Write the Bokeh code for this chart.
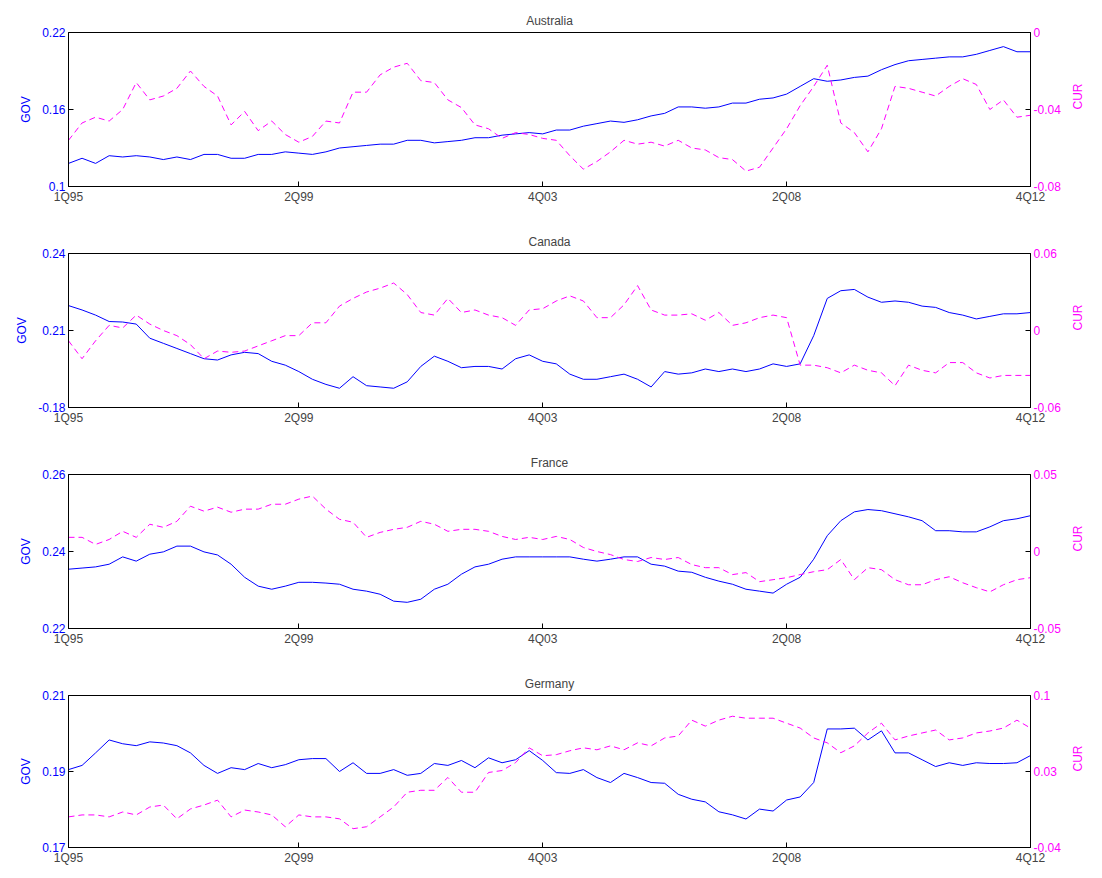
import math
from bokeh.plotting import figure
from bokeh.models import Range1d, LinearAxis, FixedTicker, Column
from bokeh.embed import file_html
from bokeh.resources import INLINE

# quarters 1Q95 .. 4Q12
quarters = list(range(72))
x_ticks = [0, 17, 35, 53, 71]
x_labels = ["1Q95", "2Q99", "4Q03", "2Q08", "4Q12"]

aus_gov = [0.118, 0.122, 0.118, 0.124, 0.123, 0.124, 0.123, 0.121, 0.123, 0.121, 0.125, 0.125,
           0.122, 0.122, 0.125, 0.125, 0.127, 0.126, 0.125, 0.127, 0.130, 0.131, 0.132, 0.133,
           0.133, 0.136, 0.136, 0.134, 0.135, 0.136, 0.138, 0.138, 0.140, 0.141, 0.142, 0.141,
           0.144, 0.144, 0.147, 0.149, 0.151, 0.150, 0.152, 0.155, 0.157, 0.162, 0.162, 0.161,
           0.162, 0.165, 0.165, 0.168, 0.169, 0.172, 0.178, 0.184, 0.182, 0.183, 0.185, 0.186,
           0.191, 0.195, 0.198, 0.199, 0.200, 0.201, 0.201, 0.203, 0.206, 0.209, 0.205, 0.205]
aus_cur = [-0.056, -0.047, -0.044, -0.046, -0.040, -0.026, -0.035, -0.033, -0.029, -0.020, -0.028, -0.033,
           -0.048, -0.041, -0.051, -0.046, -0.053, -0.057, -0.054, -0.046, -0.047, -0.031, -0.031, -0.022,
           -0.018, -0.016, -0.025, -0.026, -0.035, -0.039, -0.048, -0.050, -0.055, -0.052, -0.053, -0.055,
           -0.056, -0.064, -0.071, -0.067, -0.062, -0.056, -0.058, -0.057, -0.059, -0.056, -0.060, -0.061,
           -0.065, -0.066, -0.072, -0.070, -0.060, -0.050, -0.038, -0.028, -0.017, -0.047, -0.052, -0.062,
           -0.050, -0.028, -0.029, -0.031, -0.033, -0.028, -0.024, -0.027, -0.040, -0.035, -0.044, -0.043]

can_gov = [0.2197, 0.218, 0.216, 0.2135, 0.2133, 0.2125, 0.207, 0.205, 0.203, 0.201, 0.199, 0.1985,
           0.2005, 0.2015, 0.201, 0.198, 0.1965, 0.194, 0.191, 0.189, 0.1875, 0.192, 0.1885, 0.188,
           0.1875, 0.190, 0.196, 0.200, 0.198, 0.1955, 0.196, 0.196, 0.195, 0.199, 0.2005, 0.198,
           0.197, 0.193, 0.191, 0.191, 0.192, 0.193, 0.191, 0.188, 0.194, 0.193, 0.1935, 0.195,
           0.194, 0.195, 0.194, 0.195, 0.197, 0.196, 0.197, 0.208, 0.2225, 0.2255, 0.226, 0.223,
           0.221, 0.2215, 0.221, 0.2195, 0.219, 0.217, 0.216, 0.2145, 0.2155, 0.2165, 0.2165, 0.217]
can_cur = [-0.008, -0.022, -0.008, 0.004, 0.002, 0.012, 0.005, 0.000, -0.004, -0.011, -0.022, -0.016,
           -0.017, -0.016, -0.012, -0.008, -0.004, -0.004, 0.006, 0.006, 0.019, 0.025, 0.030, 0.033,
           0.037, 0.028, 0.014, 0.012, 0.025, 0.014, 0.016, 0.012, 0.010, 0.004, 0.016, 0.017,
           0.023, 0.027, 0.023, 0.010, 0.010, 0.020, 0.035, 0.016, 0.012, 0.012, 0.013, 0.008,
           0.014, 0.004, 0.006, 0.010, 0.012, 0.010, -0.027, -0.027, -0.029, -0.033, -0.027, -0.031,
           -0.033, -0.043, -0.027, -0.031, -0.033, -0.025, -0.025, -0.033, -0.037, -0.035, -0.035, -0.035]

fra_gov = [0.2354, 0.2357, 0.2360, 0.2367, 0.2386, 0.2375, 0.2393, 0.2399, 0.2414, 0.2414, 0.2399, 0.2391,
           0.2367, 0.2333, 0.2310, 0.2302, 0.2310, 0.2320, 0.2320, 0.2318, 0.2315, 0.2302, 0.2297, 0.2289,
           0.2271, 0.2268, 0.2276, 0.2302, 0.2315, 0.2341, 0.2360, 0.2367, 0.2380, 0.2386, 0.2386, 0.2386,
           0.2386, 0.2386, 0.2380, 0.2375, 0.2380, 0.2386, 0.2386, 0.2367, 0.2362, 0.2349, 0.2346, 0.2333,
           0.2323, 0.2315, 0.2302, 0.2297, 0.2292, 0.2315, 0.2333, 0.2380, 0.2441, 0.2480, 0.2503, 0.2509,
           0.2506, 0.2498, 0.2490, 0.2480, 0.2454, 0.2454, 0.2451, 0.2451, 0.2464, 0.2480, 0.2485, 0.2493]
fra_cur = [0.0092, 0.0092, 0.0046, 0.0078, 0.0131, 0.0092, 0.0177, 0.0157, 0.0196, 0.0294, 0.0262, 0.0288,
           0.0255, 0.0275, 0.0275, 0.0307, 0.0307, 0.0340, 0.0360, 0.0275, 0.0209, 0.0190, 0.0092, 0.0124,
           0.0144, 0.0157, 0.0196, 0.0177, 0.0131, 0.0144, 0.0144, 0.0131, 0.0098, 0.0078, 0.0092, 0.0078,
           0.0098, 0.0078, 0.0026, 0.0000, -0.0020, -0.0052, -0.0065, -0.0039, -0.0052, -0.0039, -0.0085, -0.0105,
           -0.0105, -0.0150, -0.0137, -0.0196, -0.0183, -0.0170, -0.0150, -0.0131, -0.0118, -0.0052, -0.0183, -0.0105,
           -0.0118, -0.0183, -0.0216, -0.0216, -0.0183, -0.0164, -0.0203, -0.0235, -0.0262, -0.0216, -0.0183, -0.0170]

ger_gov = [0.1905, 0.1916, 0.1949, 0.1983, 0.1973, 0.1968, 0.1978, 0.1975, 0.1968, 0.1949, 0.1916, 0.1895,
           0.1910, 0.1905, 0.1921, 0.1910, 0.1918, 0.1931, 0.1934, 0.1934, 0.1900, 0.1923, 0.1895, 0.1895,
           0.1905, 0.1890, 0.1895, 0.1921, 0.1916, 0.1929, 0.1910, 0.1936, 0.1923, 0.1931, 0.1955, 0.1929,
           0.1897, 0.1895, 0.1905, 0.1884, 0.1871, 0.1895, 0.1884, 0.1871, 0.1869, 0.1840, 0.1827, 0.1820,
           0.1794, 0.1786, 0.1775, 0.1801, 0.1796, 0.1825, 0.1833, 0.1871, 0.2012, 0.2012, 0.2014, 0.1983,
           0.2007, 0.1949, 0.1949, 0.1931, 0.1913, 0.1923, 0.1916, 0.1923, 0.1921, 0.1921, 0.1923, 0.1942]
ger_cur = [-0.0118, -0.0100, -0.0100, -0.0118, -0.0073, -0.0100, -0.0027, -0.0009, -0.0136, -0.0045, -0.0009, 0.0036,
           -0.0118, -0.0055, -0.0073, -0.0100, -0.0209, -0.0100, -0.0118, -0.0118, -0.0136, -0.0227, -0.0209, -0.0118,
           -0.0027, 0.0109, 0.0127, 0.0127, 0.0245, 0.0109, 0.0109, 0.0291, 0.0309, 0.0382, 0.0518, 0.0445,
           0.0455, 0.0491, 0.0518, 0.0500, 0.0536, 0.0500, 0.0564, 0.0536, 0.0609, 0.0627, 0.0773, 0.0718,
           0.0773, 0.0809, 0.0791, 0.0791, 0.0791, 0.0745, 0.0700, 0.0609, 0.0564, 0.0473, 0.0536, 0.0655,
           0.0745, 0.0591, 0.0627, 0.0655, 0.0682, 0.0591, 0.0609, 0.0655, 0.0673, 0.0700, 0.0773, 0.0700]

panels = [
    ("Australia", aus_gov, aus_cur, (0.1, 0.22), [0.1, 0.16, 0.22], ["0.1", "0.16", "0.22"],
     (-0.08, 0.0), [-0.08, -0.04, 0.0], ["-0.08", "-0.04", "0"]),
    ("Canada", can_gov, can_cur, (0.18, 0.24), [0.18, 0.21, 0.24], ["-0.18", "0.21", "0.24"],
     (-0.06, 0.06), [-0.06, 0.0, 0.06], ["-0.06", "0", "0.06"]),
    ("France", fra_gov, fra_cur, (0.22, 0.26), [0.22, 0.24, 0.26], ["0.22", "0.24", "0.26"],
     (-0.05, 0.05), [-0.05, 0.0, 0.05], ["-0.05", "0", "0.05"]),
    ("Germany", ger_gov, ger_cur, (0.17, 0.21), [0.17, 0.19, 0.21], ["0.17", "0.19", "0.21"],
     (-0.04, 0.1), [-0.04, 0.03, 0.1], ["-0.04", "0.03", "0.1"]),
]

FONT = "Liberation Sans"
BLUE = "#0000ff"
MAG = "#ff00ff"

figs = []
for k, (name, gov, cur, grange, gticks, glabels, crange, cticks, clabels) in enumerate(panels):
    last = k == len(panels) - 1
    p = figure(width=1094, height=204 if last else 221, output_backend="svg", toolbar_location=None,
               x_range=Range1d(0, 71), y_range=Range1d(*grange),
               min_border_left=68, min_border_right=59, min_border_top=32,
               min_border_bottom=18 if last else 35)
    p.extra_y_ranges = {"cur": Range1d(*crange)}
    p.title.text = name
    p.title.align = "center"
    p.title.text_font = FONT
    p.title.text_font_size = "12px"
    p.title.text_font_style = "normal"
    p.xgrid.visible = False
    p.ygrid.visible = False
    p.outline_line_color = "black"
    p.background_fill_color = "white"

    p.line(quarters, gov, line_color=BLUE, line_width=1)
    p.line(quarters, cur, line_color=MAG, line_width=1, line_dash="6 4", y_range_name="cur")

    xa = p.xaxis[0]
    xa.ticker = FixedTicker(ticks=x_ticks)
    xa.major_label_overrides = {t: l for t, l in zip(x_ticks, x_labels)}
    ya = p.yaxis[0]
    ya.ticker = FixedTicker(ticks=gticks)
    ya.major_label_overrides = {t: l for t, l in zip(gticks, glabels)}
    ya.axis_label = "GOV"
    ya.axis_label_text_color = BLUE
    ya.major_label_text_color = BLUE
    ra = LinearAxis(y_range_name="cur", ticker=FixedTicker(ticks=cticks), axis_label="CUR")
    ra.major_label_overrides = {t: l for t, l in zip(cticks, clabels)}
    ra.axis_label_text_color = MAG
    ra.major_label_text_color = MAG
    ra.axis_label_orientation = math.pi / 2
    p.add_layout(ra, "right")
    for ax in [xa, ya, ra]:
        ax.major_label_text_font = FONT
        ax.major_label_text_font_size = "12px"
        ax.axis_label_text_font = FONT
        ax.axis_label_text_font_size = "12px"
        ax.axis_label_text_font_style = "normal"
        ax.major_tick_in = 5
        ax.major_tick_out = 0
        ax.minor_tick_line_color = None
        ax.axis_label_standoff = 6
        ax.major_label_standoff = 3
    ra.axis_label_standoff = 14
    figs.append(p)

layout = Column(*figs, spacing=0)
open("out.html", "w").write(file_html(layout, INLINE))
